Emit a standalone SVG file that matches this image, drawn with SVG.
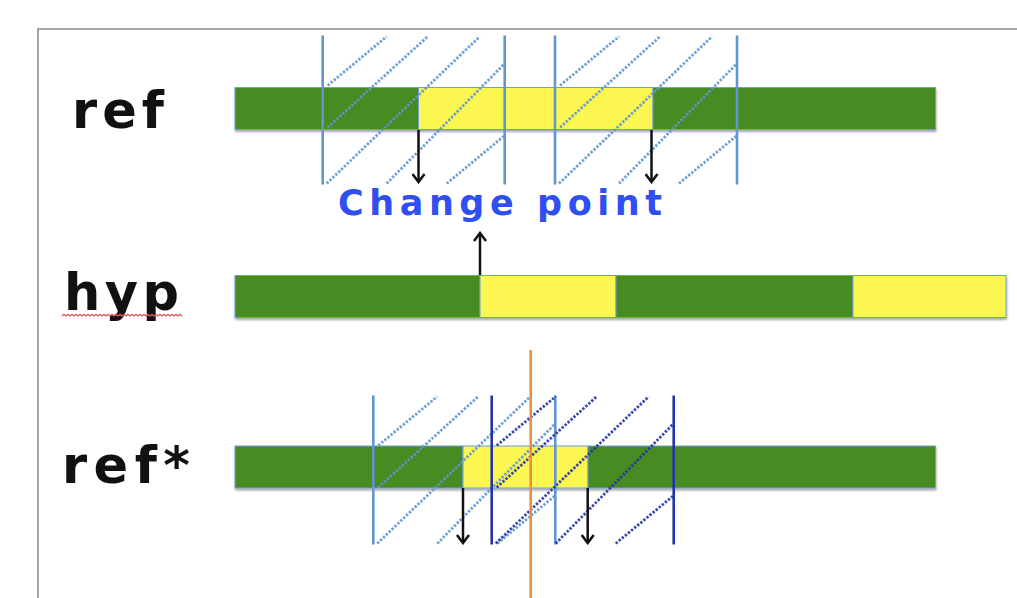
<svg xmlns="http://www.w3.org/2000/svg" xmlns:xlink="http://www.w3.org/1999/xlink" width="1017" height="598" viewBox="0 0 1017 598">
  <style>
    .label { font-family: "DejaVu Sans", "Liberation Sans", sans-serif; font-weight: bold; fill: #111; }
    .cp { font-family: "DejaVu Sans", "Liberation Sans", sans-serif; font-weight: bold; fill: #2f4ff2; }
    .seg { stroke: #6f9dd4; stroke-width: 1; }
    .green { fill: #478b24; }
    .yellow { fill: #fcf651; }
    .edge { stroke: currentColor; stroke-width: 2.6; fill: none; }
    .dot { stroke: currentColor; stroke-width: 2.8; stroke-dasharray: 2.4 1.6; fill: none; opacity: 0.9; }
    .arrow { stroke: #111; stroke-width: 2.5; fill: none; }
    .frame { stroke: #a5a5a5; stroke-width: 2; fill: none; }
  </style>
  <defs>
    <filter id="shadow" x="-5%" y="-30%" width="110%" height="170%">
      <feDropShadow dx="0.5" dy="2" stdDeviation="1.2" flood-color="#000" flood-opacity="0.35"/>
    </filter>
    <marker id="head" viewBox="0 0 12 14" refX="10" refY="7" markerWidth="12" markerHeight="14" markerUnits="userSpaceOnUse" orient="auto">
      <path d="M2,1 L10,7 L2,13" stroke="#111" stroke-width="2.5" fill="none"/>
    </marker>
    <!-- window: two solid borders with diagonal dotted hatching, 182 x 149 -->
    <g id="hatch">
      <line class="dot" x1="5" y1="50" x2="64" y2="1"/>
      <line class="dot" x1="5" y1="92" x2="105" y2="1"/>
      <line class="dot" x1="4" y1="148" x2="157" y2="1"/>
      <line class="dot" x1="64" y1="148" x2="182" y2="28"/>
      <line class="dot" x1="124" y1="148" x2="182" y2="100"/>
      <line class="edge" x1="0" y1="0" x2="0" y2="149"/>
      <line class="edge" x1="182" y1="0" x2="182" y2="149"/>
    </g>
  </defs>

  <rect width="1017" height="598" fill="#fff"/>
  <path class="frame" d="M1017,29 H38 V598"/>

  <!-- row labels -->
  <g id="label-ref"><text class="label" x="72" y="128" font-size="51" textLength="92" lengthAdjust="spacing">ref</text></g>
  <g id="label-hyp">
    <text class="label" x="64" y="310" font-size="51" textLength="115" lengthAdjust="spacing">hyp</text>
    <path d="M62 316 l2 -1.6 2 1.6 2 -1.6 2 1.6 2 -1.6 2 1.6 2 -1.6 2 1.6 2 -1.6 2 1.6 2 -1.6 2 1.6 2 -1.6 2 1.6 2 -1.6 2 1.6 2 -1.6 2 1.6 2 -1.6 2 1.6 2 -1.6 2 1.6 2 -1.6 2 1.6 2 -1.6 2 1.6 2 -1.6 2 1.6 2 -1.6 2 1.6 2 -1.6 2 1.6 2 -1.6 2 1.6 2 -1.6 2 1.6 2 -1.6 2 1.6 2 -1.6 2 1.6 2 -1.6 2 1.6 2 -1.6 2 1.6 2 -1.6 2 1.6 2 -1.6 2 1.6 2 -1.6 2 1.6 2 -1.6 2 1.6 2 -1.6 2 1.6 2 -1.6 2 1.6 2 -1.6 2 1.6 2 -1.6 2 1.6" stroke="#e05a5a" stroke-width="1.3" fill="none"/>
  </g>
  <g id="label-refstar"><text class="label" x="62" y="483" font-size="51" textLength="128" lengthAdjust="spacing">ref*</text></g>

  <!-- reference segmentation -->
  <g id="bar-ref" filter="url(#shadow)">
    <rect class="seg green" x="235" y="87.5" width="183.5" height="42"/>
    <rect class="seg yellow" x="418.5" y="87.5" width="234.5" height="42"/>
    <rect class="seg green" x="653" y="87.5" width="282.5" height="42"/>
  </g>

  <!-- hypothesis segmentation -->
  <g id="bar-hyp" filter="url(#shadow)">
    <rect class="seg green" x="235" y="275.5" width="245" height="42"/>
    <rect class="seg yellow" x="480" y="275.5" width="136" height="42"/>
    <rect class="seg green" x="616" y="275.5" width="237" height="42"/>
    <rect class="seg yellow" x="853" y="275.5" width="153" height="42"/>
  </g>

  <!-- shifted reference segmentation -->
  <g id="bar-refstar" filter="url(#shadow)">
    <rect class="seg green" x="235" y="446" width="228" height="42"/>
    <rect class="seg yellow" x="463" y="446" width="125" height="42"/>
    <rect class="seg green" x="588" y="446" width="347.5" height="42"/>
  </g>

  <!-- tolerance windows -->
  <g id="windows">
    <use xlink:href="#hatch" href="#hatch" x="322.7" y="35.5" color="#6196d0"/>
    <use xlink:href="#hatch" href="#hatch" x="555" y="35.5" color="#6196d0"/>
    <use xlink:href="#hatch" href="#hatch" x="373.3" y="395.5" color="#6196d0"/>
    <use xlink:href="#hatch" href="#hatch" x="491.7" y="395.5" color="#2434a6"/>
  </g>

  <g id="boundary">
    <line x1="530.7" y1="350" x2="530.7" y2="598" stroke="#ee8a3e" stroke-width="2.5"/>
  </g>

  <g id="label-change-point">
    <text class="cp" x="338" y="215" font-size="35" textLength="324" lengthAdjust="spacing">Change point</text>
  </g>

  <!-- connectors -->
  <g id="connectors">
    <line class="arrow" x1="418.5" y1="130" x2="418.5" y2="182" marker-end="url(#head)"/>
    <line class="arrow" x1="651.5" y1="130" x2="651.5" y2="182" marker-end="url(#head)"/>
    <line class="arrow" x1="480" y1="275" x2="480" y2="233" marker-end="url(#head)"/>
    <line class="arrow" x1="463" y1="488" x2="463" y2="543" marker-end="url(#head)"/>
    <line class="arrow" x1="587.7" y1="488" x2="587.7" y2="543" marker-end="url(#head)"/>
  </g>
</svg>
